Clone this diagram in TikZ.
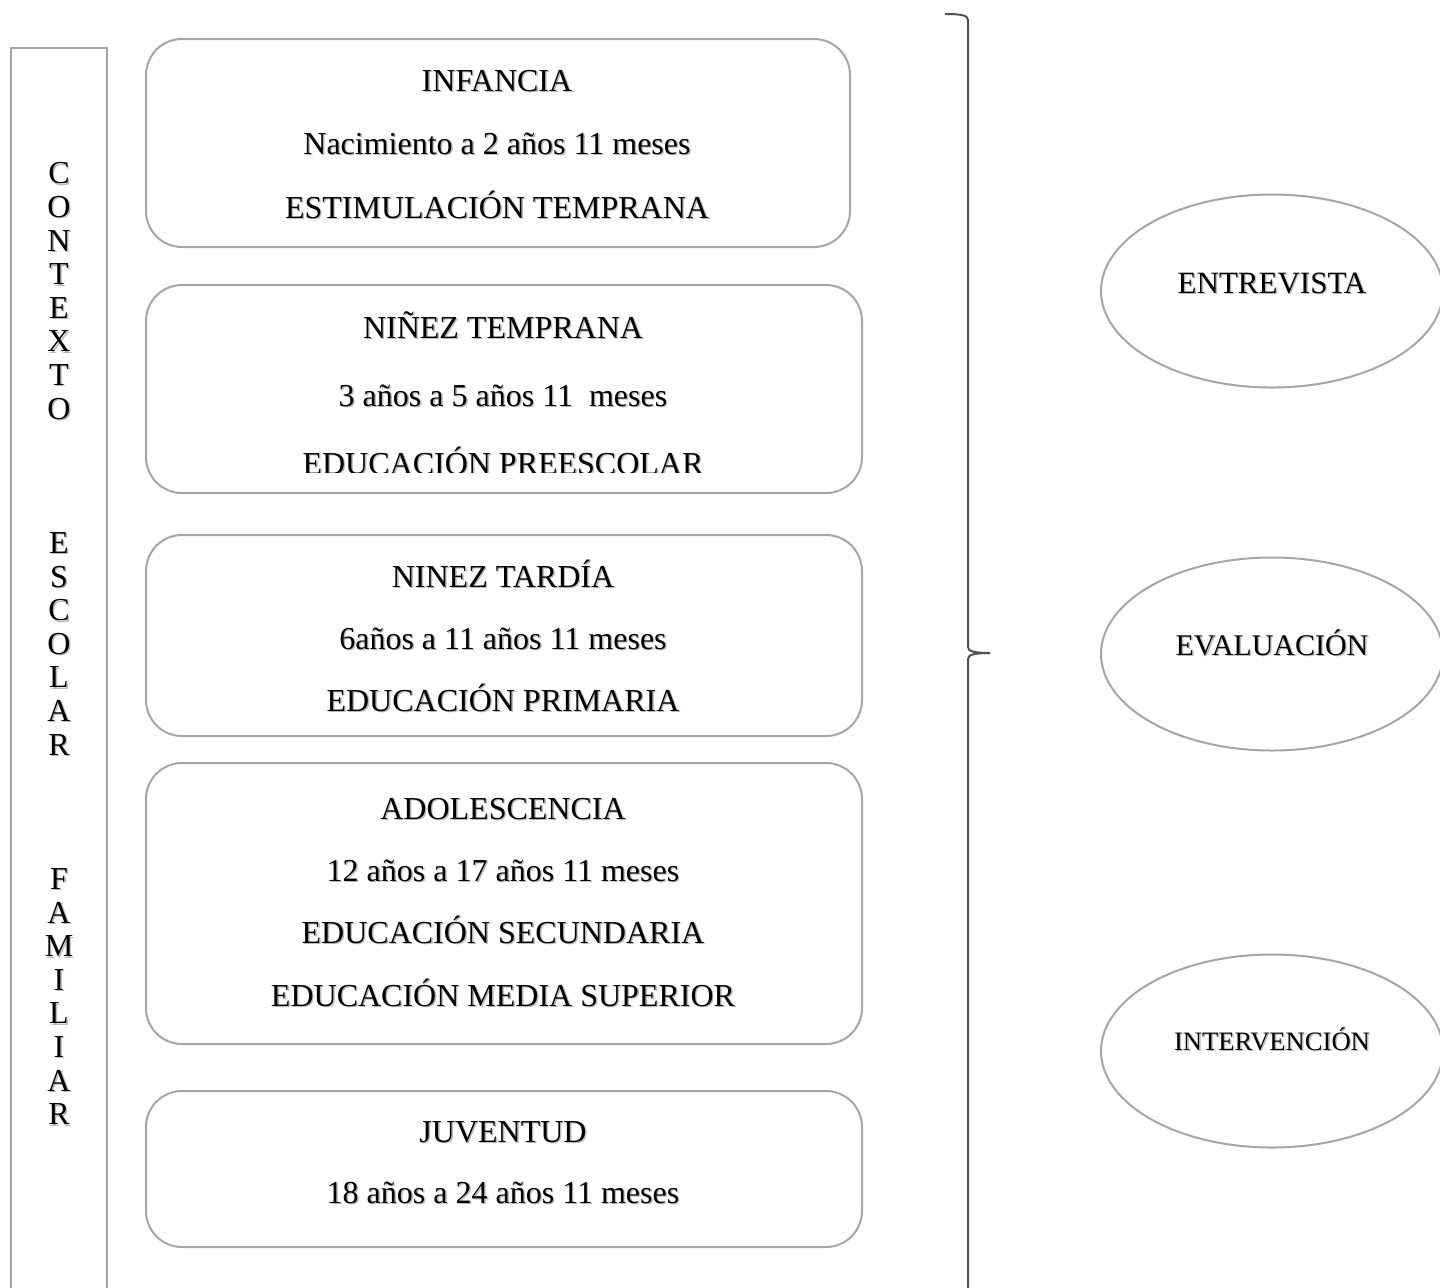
\documentclass[tikz,border=0pt]{standalone}
\usepackage{fontspec}
\setmainfont{Liberation Serif}
\usetikzlibrary{shapes.geometric}
\definecolor{boxgray}{RGB}{166,166,166}
\definecolor{bracecol}{RGB}{80,80,80}
\definecolor{shadowcol}{RGB}{185,185,185}
\newcommand\shtext[1]{\makebox[0pt][l]{\raisebox{-0.7pt}{\hspace{0.7pt}\textcolor{shadowcol}{#1}}}#1}
\begin{document}
\begin{tikzpicture}[x=0.5pt,y=-0.5pt,
  stage/.style={draw=boxgray, line width=1pt, rounded corners=18pt, inner sep=0pt, anchor=north west},
  oval/.style={draw=boxgray, line width=1pt, ellipse, inner sep=0pt, minimum width=171pt, minimum height=96.5pt},
  txt/.style={anchor=base, inner sep=0pt, font=\fontsize{16pt}{19pt}\selectfont},
  stxt/.style={anchor=base, inner sep=0pt, font=\fontsize{13.3pt}{16pt}\selectfont},
  letter/.style={anchor=base, inner sep=0pt, font=\fontsize{16pt}{19pt}\selectfont}]
\useasboundingbox (0,0) rectangle (1440,1287);
\clip (0,0) rectangle (1440,1287);
\fill[white] (0,0) rectangle (1440,1287);

% left context column
\draw[draw=boxgray, line width=1pt] (11,1300) -- (11,48) -- (107,48) -- (107,1300);
\foreach \n/\l in {0/C,1/O,2/N,3/T,4/E,5/X,6/T,7/O,11/E,12/S,13/C,14/O,15/L,16/A,17/R,21/F,22/A,23/M,24/I,25/L,26/I,27/A,28/R}
  \node[letter] (c\n) at (59,{183.8+33.6*\n}) {\shtext{\l}};

% stage boxes
\node[stage, minimum width=352pt, minimum height=104pt] (b1) at (145,38) {};
\node[stage, minimum width=358pt, minimum height=104pt] (b2) at (145,284) {};
\node[stage, minimum width=358pt, minimum height=100.5pt] (b3) at (145,534) {};
\node[stage, minimum width=358pt, minimum height=140.5pt] (b4) at (145,762) {};
\node[stage, minimum width=358pt, minimum height=78pt] (b5) at (145,1090) {};

\node[txt] (t1a) at (497,91) {\shtext{INFANCIA}};
\node[txt] (t1b) at (497,154) {\shtext{Nacimiento a 2 años 11 meses}};
\node[txt] (t1c) at (497,218) {\shtext{ESTIMULACIÓN TEMPRANA}};

\node[txt] (t2a) at (503,338) {\shtext{NIÑEZ TEMPRANA}};
\node[txt] (t2b) at (503,406) {\shtext{3 años a 5 años 11\ \ meses}};
\begin{scope}
  \clip (145,300) rectangle (861,472);
  \node[txt] (t2c) at (503,474) {\shtext{EDUCACIÓN PREESCOLAR}};
\end{scope}

\node[txt] (t3a) at (503,587) {\shtext{NINEZ TARDÍA}};
\node[txt] (t3b) at (503,649) {\shtext{6años a 11 años 11 meses}};
\node[txt] (t3c) at (503,711) {\shtext{EDUCACIÓN PRIMARIA}};

\node[txt] (t4a) at (503,819) {\shtext{ADOLESCENCIA}};
\node[txt] (t4b) at (503,881) {\shtext{12 años a 17 años 11 meses}};
\node[txt] (t4c) at (503,943) {\shtext{EDUCACIÓN SECUNDARIA}};
\node[txt] (t4d) at (503,1006) {\shtext{EDUCACIÓN MEDIA SUPERIOR}};

\node[txt] (t5a) at (503,1142) {\shtext{JUVENTUD}};
\node[txt] (t5b) at (503,1203) {\shtext{18 años a 24 años 11 meses}};

% brace
\draw[draw=bracecol, line width=1pt] (945,14) .. controls (960,14) and (968,15) .. (968,20)
  -- (968,647) .. controls (968,651) and (973,653) .. (990,653);
\draw[draw=bracecol, line width=1pt] (990,653) .. controls (973,653) and (968,655) .. (968,659) -- (968,1300);

% ovals
\node[oval] (e1) at (1272,291) {};
\node[stxt, font=\fontsize{15.5pt}{18pt}\selectfont] (e1t) at (1272,293.5) {\shtext{ENTREVISTA}};
\node[oval] (e2) at (1272,654) {};
\node[stxt, font=\fontsize{15pt}{18pt}\selectfont] (e2t) at (1272,655.5) {\shtext{EVALUACIÓN}};
\node[oval] (e3) at (1272,1051) {};
\node[stxt] (e3t) at (1272,1050) {\shtext{INTERVENCIÓN}};
\end{tikzpicture}
\end{document}
